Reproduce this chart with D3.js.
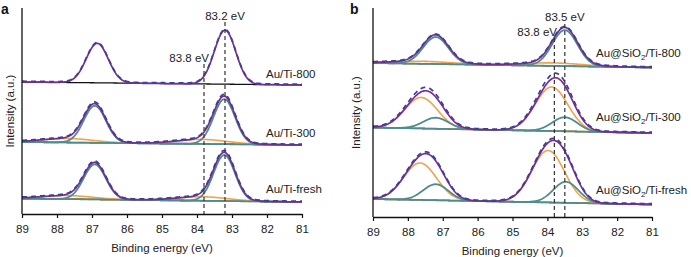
<!DOCTYPE html>
<html><head><meta charset="utf-8">
<script src="https://cdn.jsdelivr.net/npm/d3@7"></script>
<style>
body{margin:0;background:#fff;}
svg{display:block;font-family:"Liberation Sans",Arial,sans-serif;}
</style></head>
<body><svg id="c" width="691" height="257"></svg>
<script>
// ---------- DATA ----------
const energyTicks = [89, 88, 87, 86, 85, 84, 83, 82, 81];

// Panel a (intensity in a.u.; spectra stacked)
const labelsA = ["Au/Ti-800", "Au/Ti-300", "Au/Ti-fresh"];
const baseLeftA  = [132, 72, 15.5];   // background at 89 eV
const baseRightA = [129, 69, 12];     // background at 81 eV
// metallic Au 4f components [center eV, height, FWHM eV]
const metalA = [
  [[86.85, 39.5, 0.74], [83.2, 54, 0.72]],
  [[86.92, 37, 0.74], [83.22, 45, 0.72]],
  [[86.92, 35, 0.74], [83.22, 46, 0.72]]
];
// oxidized / cationic components
const oxA = [
  [],
  [[87.7, 4, 1.7], [83.85, 4.5, 1.7]],
  [[87.7, 3.5, 1.7], [83.85, 4, 1.7]]
];
const showMetalA = [false, true, true];
const dataGainA = [1.0, 1.02, 1.02];
const markersA = [83.2, 83.8];
const markerLabelsA = ["83.2 eV", "83.8 eV"];

// Panel b
const labelsB = ["Au@SiO", "Au@SiO", "Au@SiO"];
const suffixB = ["/Ti-800", "/Ti-300", "/Ti-fresh"];
const baseLeftB  = [154, 89.5, 18];
const baseRightB = [149.5, 84, 12.5];
const metalB = [
  [[87.2, 27, 0.85], [83.5, 36, 0.85]],
  [[87.2, 11, 0.85], [83.5, 14, 0.85]],
  [[87.2, 16, 0.85], [83.47, 21, 0.85]]
];
const oxB = [
  [[87.6, 2.5, 2.0], [83.85, 3, 2.0]],
  [[87.62, 31, 1.1], [83.88, 44, 1.1]],
  [[87.65, 37, 1.1], [83.98, 52, 1.1]]
];
const dataGainB = [1.0, 1.07, 1.02];
const markersB = [83.8, 83.5];
const markerLabelsB = ["83.8 eV", "83.5 eV"];

// ---------- DRAW ----------
const svg = d3.select("#c");
const C = {purple:"#7b2d8e", teal:"#4f8d8b", orange:"#f2a24e", data:"#3c3f9c", base:"#111"};
const energies = d3.range(89, 81 - 1e-9, -0.02);

function gauss(e, p){ const s = p[2] / 2.3548; return p[1] * Math.exp(-((e - p[0]) ** 2) / (2 * s * s)); }

function panel(o){
  const g = svg.append("g");
  const x = d3.scaleLinear().domain([89, 81]).range([o.x0, o.x1]);
  const y = d3.scaleLinear().domain([0, o.bottom - o.top]).range([o.bottom, o.top]);
  const line = d3.line().x(d => x(d[0])).y(d => y(d[1]));

  o.labels.forEach((lab, i) => {
    const bg = e => o.baseL[i] + (o.baseR[i] - o.baseL[i]) * (89 - e) / 8;
    const metal = o.metal[i], ox = o.ox[i];
    const env = e => bg(e) + metal.reduce((s, p) => s + gauss(e, p), 0) + ox.reduce((s, p) => s + gauss(e, p), 0);
    g.append("path").attr("d", line(energies.map(e => [e, bg(e)])))
      .attr("fill", "none").attr("stroke", C.base).attr("stroke-width", 1.3);
    ox.forEach(p => g.append("path").attr("d", line(energies.map(e => [e, bg(e) + gauss(e, p)])))
      .attr("fill", "none").attr("stroke", C.orange).attr("stroke-width", 1.6));
    if (o.showMetal[i]) metal.forEach(p => g.append("path").attr("d", line(energies.map(e => [e, bg(e) + gauss(e, p)])))
      .attr("fill", "none").attr("stroke", C.teal).attr("stroke-width", 1.8));
    g.append("path").attr("d", line(energies.map(e => [e, env(e)])))
      .attr("fill", "none").attr("stroke", C.purple).attr("stroke-width", 1.7);
    g.append("path").attr("d", line(energies.map(e => [e, bg(e) + (env(e) - bg(e)) * o.gain[i] + 0.8])))
      .attr("fill", "none").attr("stroke", C.data).attr("stroke-width", 1.7)
      .attr("stroke-dasharray", "5,4");
    const t = g.append("text").attr("x", o.labX).attr("y", o.labY[i])
      .attr("font-size", 11.5).attr("fill", "#222").text(lab);
    if (o.suffix) {
      t.append("tspan").attr("font-size", 8).attr("dy", 3).text("2");
      t.append("tspan").attr("dy", -3).text(o.suffix[i]);
    }
  });

  // marker lines
  o.markers.forEach((m, k) => {
    g.append("line").attr("x1", x(m)).attr("x2", x(m)).attr("y1", o.mTop[k]).attr("y2", o.bottom)
      .attr("stroke", "#333").attr("stroke-width", 1.2).attr("stroke-dasharray", "4,3");
    g.append("text").attr("x", o.mLabX[k] !== null ? o.mLabX[k] : x(m)).attr("y", o.mLabY[k])
      .attr("text-anchor", o.mAnchor[k]).attr("font-size", 11.5).attr("fill", "#222").text(o.mLabels[k]);
  });

  // axes
  const ax = g.append("g").attr("transform", `translate(0,${o.bottom})`)
    .call(d3.axisBottom(x).tickValues(energyTicks).tickSize(4).tickSizeOuter(0).tickFormat(d3.format("d")));
  ax.select(".domain").attr("stroke", "#111").attr("stroke-width", 1.3);
  ax.selectAll(".tick line").attr("stroke", "#111").attr("stroke-width", 1.2);
  ax.selectAll("text").attr("font-size", 11.5).attr("fill", "#222").attr("dy", "1.05em")
    .attr("font-family", "Liberation Sans,Arial,sans-serif");
  g.append("line").attr("x1", o.x0).attr("x2", o.x0).attr("y1", o.top).attr("y2", o.bottom)
    .attr("stroke", "#111").attr("stroke-width", 1.3);
  g.append("text").attr("x", (o.x0 + o.x1) / 2).attr("y", o.bottom + 38).attr("text-anchor", "middle")
    .attr("font-size", 11.5).attr("fill", "#222").text("Binding energy (eV)");
  g.append("text").attr("transform", `translate(${o.ylabX},${(o.top + o.bottom) / 2}) rotate(-90)`)
    .attr("text-anchor", "middle").attr("dy", "0.35em").attr("font-size", 11.5).attr("fill", "#222")
    .text("Intensity (a.u.)");
  g.append("text").attr("x", o.letterX).attr("y", 14).attr("font-size", 14).attr("font-weight", "bold")
    .attr("fill", "#111").text(o.letter);
}

panel({x0:22, x1:302, top:8, bottom:214, labels:labelsA, baseL:baseLeftA, baseR:baseRightA,
  metal:metalA, ox:oxA, showMetal:showMetalA, gain:dataGainA, labX:266, labY:[78, 137, 193],
  markers:markersA, mLabels:markerLabelsA, mTop:[22, 64], mLabY:[20, 62], mLabX:[null, 209],
  mAnchor:["middle", "end"], ylabX:10, letter:"a", letterX:1});

panel({x0:373, x1:652, top:8, bottom:217, labels:labelsB, suffix:suffixB, baseL:baseLeftB, baseR:baseRightB,
  metal:metalB, ox:oxB, showMetal:[true, true, true], gain:dataGainB, labX:596, labY:[57, 121, 194],
  markers:markersB, mLabels:markerLabelsB, mTop:[38, 24], mLabY:[36, 21], mLabX:[557, null],
  mAnchor:["end", "middle"], ylabX:356, letter:"b", letterX:350});
</script></body></html>
